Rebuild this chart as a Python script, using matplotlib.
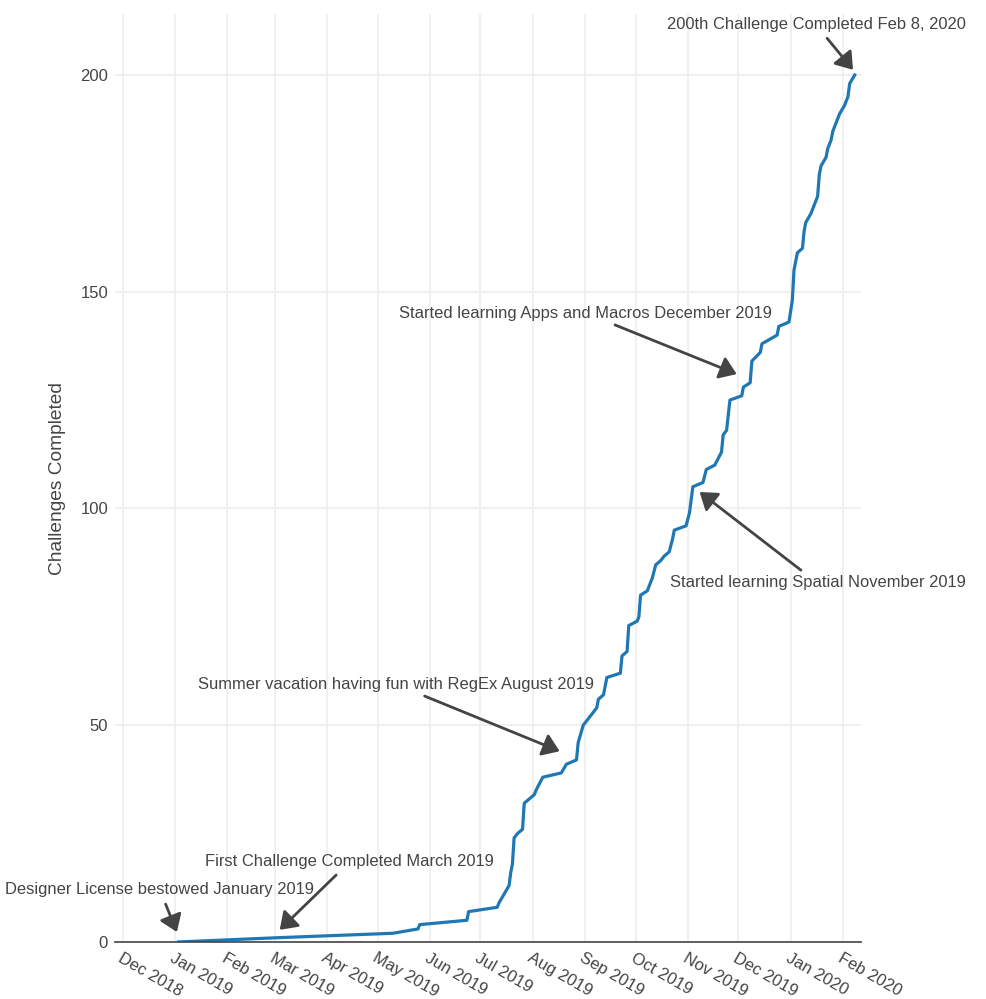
import numpy as np
import matplotlib
matplotlib.use("Agg")
import matplotlib.pyplot as plt
import matplotlib.dates as mdates

plt.rcParams['font.family'] = ['Liberation Sans', 'DejaVu Sans']

# cumulative challenges completed
dates = ["2019-01-03", "2019-03-04", "2019-05-10", "2019-05-25", "2019-05-26",
         "2019-06-23", "2019-06-24", "2019-07-11", "2019-07-12", "2019-07-15",
         "2019-07-18", "2019-07-19", "2019-07-20", "2019-07-21", "2019-07-23",
         "2019-07-26", "2019-07-27", "2019-07-30", "2019-08-02", "2019-08-03",
         "2019-08-07", "2019-08-18", "2019-08-21", "2019-08-27", "2019-08-28",
         "2019-08-31", "2019-09-02", "2019-09-04", "2019-09-08", "2019-09-09",
         "2019-09-12", "2019-09-14", "2019-09-22", "2019-09-23", "2019-09-26",
         "2019-09-27", "2019-10-02", "2019-10-03", "2019-10-04", "2019-10-08",
         "2019-10-11", "2019-10-13", "2019-10-16", "2019-10-18", "2019-10-21",
         "2019-10-23", "2019-10-24", "2019-10-31", "2019-11-02", "2019-11-04",
         "2019-11-10", "2019-11-12", "2019-11-17", "2019-11-21", "2019-11-22",
         "2019-11-24", "2019-11-26", "2019-12-03", "2019-12-04", "2019-12-08",
         "2019-12-09", "2019-12-14", "2019-12-15", "2019-12-24", "2019-12-25",
         "2019-12-31", "2020-01-02", "2020-01-03", "2020-01-05", "2020-01-08",
         "2020-01-09", "2020-01-10", "2020-01-13", "2020-01-15", "2020-01-17",
         "2020-01-18", "2020-01-19", "2020-01-22", "2020-01-23", "2020-01-25",
         "2020-01-26", "2020-01-30", "2020-02-02", "2020-02-04", "2020-02-05",
         "2020-02-08"]
completed = [0, 1, 2, 3, 4, 5, 7, 8, 9, 11,
             13, 16, 18, 24, 25, 26, 32, 33, 34, 35,
             38, 39, 41, 42, 46, 50, 51, 52, 54, 56,
             57, 61, 62, 66, 67, 73, 74, 75, 80, 81,
             84, 87, 88, 89, 90, 93, 95, 96, 99, 105,
             106, 109, 110, 113, 117, 118, 125, 126, 128, 129,
             134, 136, 138, 140, 142, 143, 148, 155, 159, 160,
             164, 166, 168, 170, 172, 177, 179, 181, 183, 185,
             187, 191, 193, 195, 198, 200]

# annotations: text, arrow tip (date, value), text offset in pixels
notes = ["200th Challenge Completed Feb 8, 2020",
         "Started learning Apps and Macros December 2019",
         "Started learning Spatial November 2019",
         "Summer vacation having fun with RegEx August 2019",
         "First Challenge Completed March 2019",
         "Designer License bestowed January 2019"]
note_dates = ["2020-02-07", "2019-11-30", "2019-11-08", "2019-08-17", "2019-03-04", "2019-01-02"]
note_values = [201.2, 131, 103.8, 44, 2.8, 2.3]
note_offsets = [(-37, 45), (-151, 61), (118, -91), (-164, 67), (70, 68), (-17, 42)]

grey = '#444444'

fig = plt.figure(figsize=(9.87, 9.99), dpi=100)
ax = fig.add_axes([0.1165, 0.0571, 0.7558, 0.9286])

x = np.array(dates, dtype='datetime64[D]')
ax.plot(x, completed, color='#1f77b4', lw=2.3, solid_joinstyle='round', zorder=3)

ax.set_xlim(np.datetime64('2018-11-26T07:00'), np.datetime64('2020-02-11T17:00'))
ax.set_ylim(0, 214)

ax.xaxis.set_major_locator(mdates.MonthLocator())
ax.xaxis.set_major_formatter(mdates.DateFormatter('%b %Y'))
ax.set_yticks([0, 50, 100, 150, 200])

ax.grid(True, color='#eeeeee', lw=1.2)
ax.set_axisbelow(True)
for side in ['top', 'right', 'left']:
    ax.spines[side].set_visible(False)
ax.spines['bottom'].set_color(grey)
ax.spines['bottom'].set_linewidth(1.2)
ax.spines['bottom'].set_zorder(4)

ax.tick_params(axis='both', length=0, labelsize=12, labelcolor=grey)
ax.tick_params(axis='x', pad=6)
ax.tick_params(axis='y', pad=5)
for lab in ax.get_xticklabels():
    lab.set_rotation(-30)
    lab.set_ha('left')
    lab.set_va('top')
    lab.set_rotation_mode('anchor')

ax.set_ylabel('Challenges Completed', fontsize=13.8, color=grey)
ax.yaxis.set_label_coords(-0.066, 0.5)

for txt, d, v, (dx, dy) in zip(notes, note_dates, note_values, note_offsets):
    ax.annotate(txt, xy=(np.datetime64(d), v), xytext=(dx, dy),
                textcoords='offset pixels', ha='center', va='center',
                fontsize=11.9, color=grey, annotation_clip=False,
                arrowprops=dict(arrowstyle='-|>,head_length=0.5,head_width=0.35',
                                color=grey, lw=2, mutation_scale=20,
                                shrinkA=3, shrinkB=0))

fig.savefig('out.png', dpi=100)
